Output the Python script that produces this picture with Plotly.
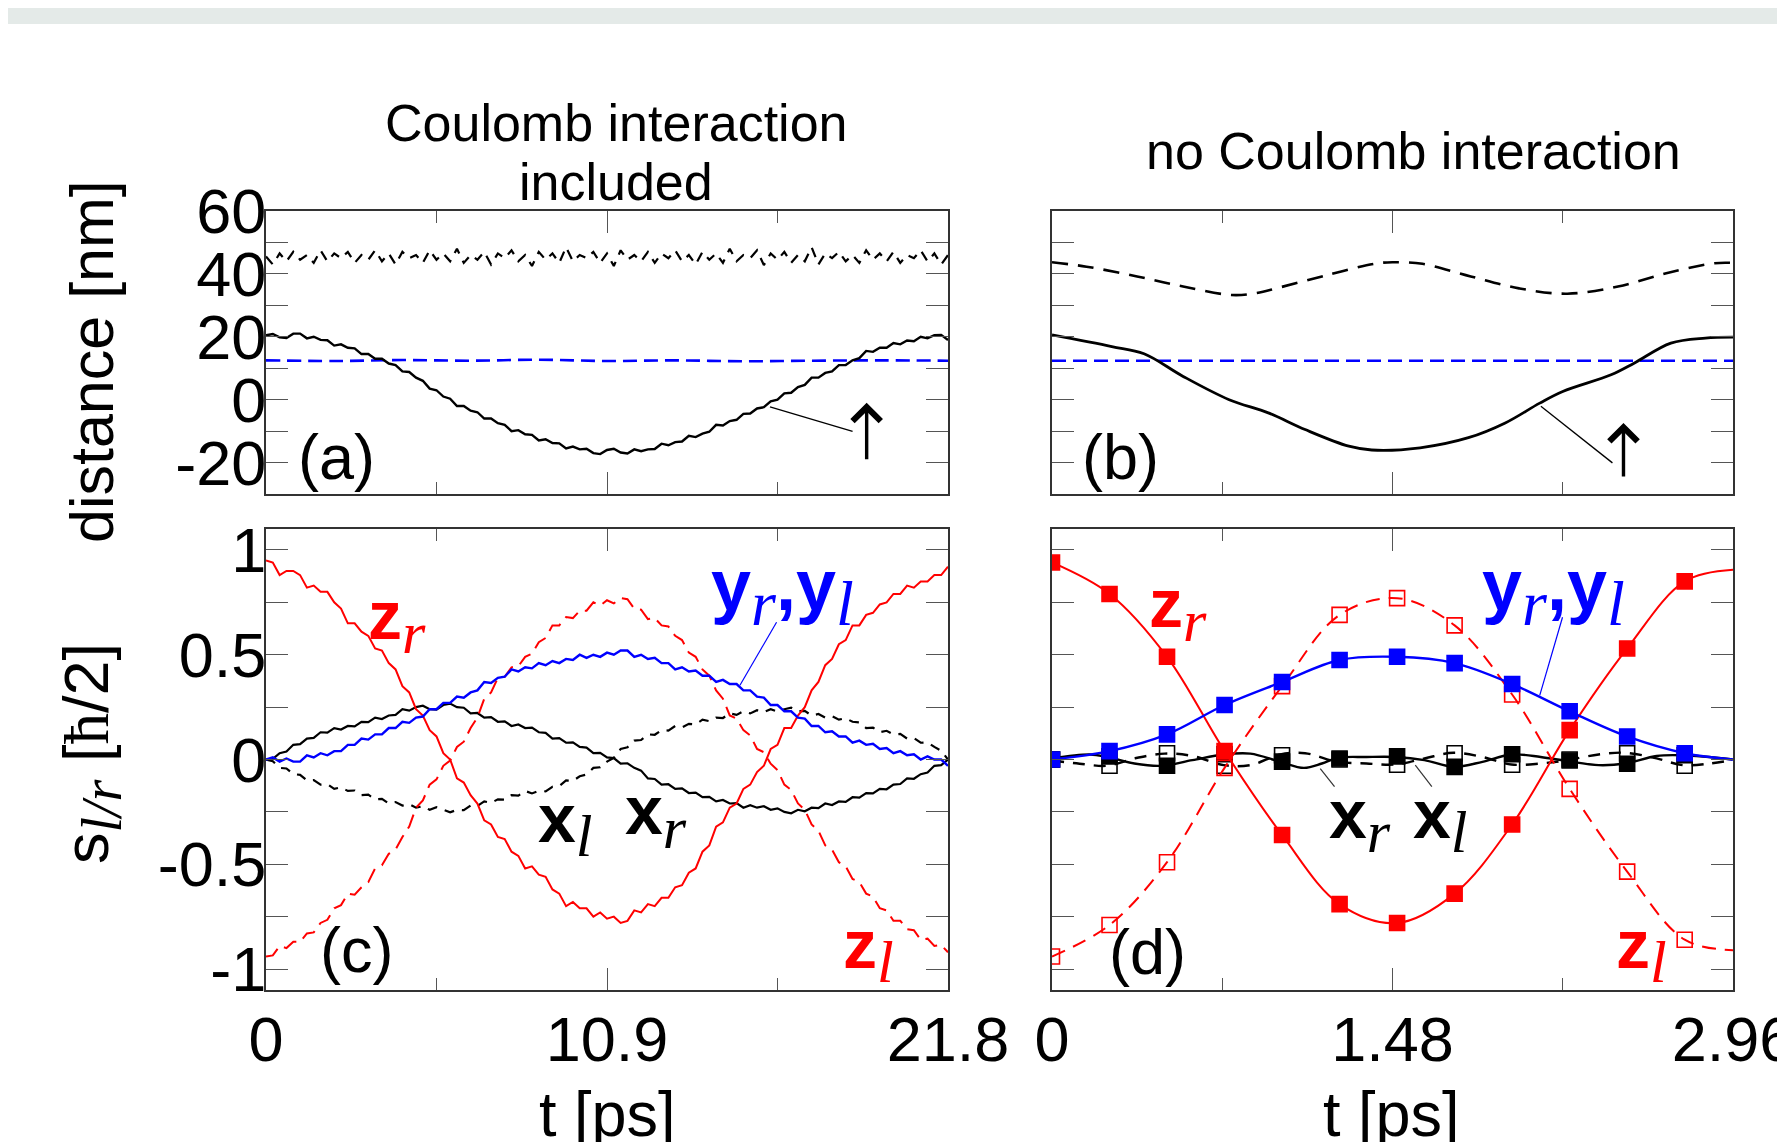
import numpy as np
import plotly.graph_objects as go

W, H = 1785, 1142          # browser window
OFF = 8                    # page body margin that precedes the figure
FW, FH = W - OFF, H - OFF  # figure size so that it ends at the window edge
FONT = "Liberation Sans, Arial, Helvetica, sans-serif"
RED, BLUE, BLACK = "#ff0000", "#0000ff", "#000000"

# ---------------- data ----------------
T_C_MAX = 21.8          # ps, Coulomb case
T_N_MAX = 2.96          # ps, no Coulomb case
XT_C = [0, 10.9, 21.8]
XT_C_MINOR = [5.45, 16.35]
XT_N = [0, 1.48, 2.96]
XT_N_MINOR = [0.74, 2.22]
XT_C_TEXT = ["0", "10.9", "21.8"]
XT_N_TEXT = ["0", "1.48", "2.96"]
YT_DIST = [-30, -20, -10, 0, 10, 20, 30, 40, 50, 60]
YT_DIST_TEXT = ["", "-20", "", "0", "", "20", "", "40", "", "60"]
YT_SPIN = [-1, -0.75, -0.5, -0.25, 0, 0.25, 0.5, 0.75, 1]
YT_SPIN_TEXT = ["-1", "", "-0.5", "", "0", "", "0.5", "", "1"]

# (a) distances [nm], Coulomb interaction included
dist_a_solid = [20.5, 20.9, 19.8, 19.6, 21.0, 21.0, 19.5, 20.0, 19.0, 18.9, 17.2, 17.6, 16.5,
                16.3, 14.5, 14.5, 13.0, 13.0, 11.5, 11.0, 9.0, 8.8, 7.0, 6.0, 3.5, 3.0, 1.0,
                0.3, -2.0, -2.0, -3.5, -4.0, -6.0, -6.0, -7.5, -8.0, -10.0, -9.7, -11.0,
                -11.2, -13.0, -12.6, -13.8, -13.9, -15.5, -14.9, -15.8, -15.6, -17.0, -17.3,
                -16.0, -15.6, -16.8, -17.1, -15.8, -16.4, -15.8, -15.7, -14.0, -14.5, -13.5,
                -13.3, -11.5, -11.9, -10.8, -10.2, -8.0, -8.2, -6.8, -6.4, -4.5, -4.4, -2.8,
                -2.4, -0.5, 0.0, 2.0, 2.2, 4.0, 4.7, 7.0, 7.0, 8.5, 9.0, 11.0, 11.0, 12.5,
                13.2, 15.5, 15.2, 16.5, 16.5, 18.0, 17.6, 18.8, 18.6, 20.0, 19.5, 20.5, 20.6,
                19.0]
dist_a_dashed = [45.5, 43.0, 46.5, 44.0, 47.0, 44.5, 46.0, 43.5, 47.5, 44.0, 46.5, 45.0, 47.0,
                 43.5, 46.0, 44.5, 47.5, 44.0, 46.5, 43.0, 47.0, 45.0, 46.0, 43.5, 47.5, 44.5,
                 46.5, 44.0, 48.0, 43.5, 46.0, 44.5, 47.0, 43.0, 46.5, 45.0, 47.5, 44.0, 46.0,
                 42.5, 47.0, 44.5, 46.5, 43.5, 48.5, 44.0, 46.0, 45.0, 47.0, 43.5, 46.5, 42.5,
                 47.5, 44.5, 46.0, 44.0, 47.0, 43.5, 46.5, 45.0, 47.5, 44.0, 46.0, 43.0, 47.0,
                 44.5, 46.5, 43.5, 48.0, 44.0, 46.0, 45.0, 47.5, 42.8, 46.5, 44.5, 47.0, 43.5,
                 46.0, 44.0, 48.5, 43.0, 46.5, 45.0, 47.0, 44.0, 46.0, 43.5, 47.5, 44.5, 46.5,
                 44.0, 47.0, 43.5, 46.0, 45.0, 47.5, 44.0, 46.5, 43.0, 46.0]
dist_a_blue = [12.5, 12.3, 12.6, 12.4, 12.7, 12.3, 12.5, 12.2, 12.4, 12.5, 12.4]

# (b) distances [nm], no Coulomb interaction
t_b_dashed = [0, 0.15, 0.37, 0.57, 0.78, 0.88, 0.99, 1.20, 1.40, 1.48, 1.61, 1.82, 2.03,
              2.24, 2.46, 2.67, 2.88, 2.96]
dist_b_dashed = [43.7, 42.3, 39.2, 36.0, 33.3, 33.8, 35.7, 39.7, 43.2, 43.7, 43.2, 39.2, 35.4,
                 33.7, 36.0, 40.2, 43.4, 43.5]
t_b_solid = [0, 0.26, 0.40, 0.57, 0.77, 0.94, 1.10, 1.29, 1.39, 1.60, 1.81, 1.97, 2.12,
             2.22, 2.43, 2.53, 2.69, 2.84, 2.96]
dist_b_solid = [20.6, 16.9, 14.6, 7.4, 0.0, -4.2, -9.5, -14.8, -16.0, -15.3, -12.1, -7.4,
                -1.1, 2.6, 7.9, 11.6, 18.0, 19.6, 19.9]
t_b_blue = [0, 2.96]
dist_b_blue = [12.4, 12.4]

# (c) spins [hbar/2], Coulomb interaction included
zr_c = [0.95, 0.94, 0.88, 0.90, 0.90, 0.88, 0.82, 0.83, 0.80, 0.80, 0.75, 0.72, 0.65, 0.65,
        0.61, 0.59, 0.53, 0.52, 0.46, 0.43, 0.35, 0.32, 0.24, 0.21, 0.14, 0.11, 0.03, 0.00,
        -0.09, -0.11, -0.17, -0.21, -0.29, -0.31, -0.37, -0.38, -0.44, -0.46, -0.52, -0.51,
        -0.55, -0.56, -0.62, -0.64, -0.70, -0.68, -0.71, -0.71, -0.75, -0.73, -0.76, -0.75,
        -0.78, -0.77, -0.72, -0.73, -0.69, -0.70, -0.66, -0.66, -0.61, -0.60, -0.54, -0.52,
        -0.44, -0.41, -0.32, -0.30, -0.23, -0.21, -0.14, -0.12, -0.06, -0.03, 0.05, 0.07,
        0.15, 0.15, 0.21, 0.25, 0.33, 0.37, 0.45, 0.48, 0.55, 0.57, 0.64, 0.64, 0.69, 0.70,
        0.74, 0.75, 0.79, 0.79, 0.83, 0.82, 0.85, 0.85, 0.88, 0.88, 0.92]
zl_c = [-0.94, -0.935, -0.89, -0.90, -0.87, -0.87, -0.83, -0.825, -0.78, -0.765, -0.71,
        -0.695, -0.64, -0.645, -0.61, -0.585, -0.52, -0.505, -0.45, -0.43, -0.37, -0.32,
        -0.23, -0.195, -0.12, -0.095, -0.03, -0.005, 0.06, 0.085, 0.15, 0.20, 0.29, 0.32,
        0.39, 0.395, 0.44, 0.445, 0.49, 0.505, 0.56, 0.58, 0.64, 0.64, 0.68, 0.675, 0.71,
        0.71, 0.75, 0.735, 0.76, 0.745, 0.77, 0.765, 0.72, 0.715, 0.67, 0.675, 0.64, 0.635,
        0.59, 0.57, 0.51, 0.49, 0.43, 0.40, 0.33, 0.29, 0.21, 0.195, 0.14, 0.115, 0.05,
        0.035, -0.02, -0.05, -0.12, -0.145, -0.21, -0.24, -0.31, -0.34, -0.41, -0.43, -0.49,
        -0.51, -0.57, -0.585, -0.64, -0.655, -0.71, -0.72, -0.77, -0.77, -0.81, -0.815,
        -0.86, -0.855, -0.89, -0.885, -0.92]
y_c = [0.00, 0.01, -0.01, 0.005, -0.01, -0.01, 0.02, 0.01, 0.03, 0.02, 0.04, 0.04, 0.07,
       0.07, 0.10, 0.095, 0.12, 0.12, 0.15, 0.15, 0.18, 0.175, 0.20, 0.205, 0.24, 0.24, 0.27,
       0.27, 0.30, 0.295, 0.32, 0.33, 0.37, 0.365, 0.39, 0.395, 0.43, 0.42, 0.44, 0.435,
       0.46, 0.45, 0.47, 0.46, 0.48, 0.475, 0.50, 0.485, 0.50, 0.49, 0.51, 0.50, 0.52, 0.52,
       0.49, 0.50, 0.48, 0.485, 0.46, 0.46, 0.43, 0.44, 0.42, 0.425, 0.40, 0.40, 0.37, 0.38,
       0.36, 0.36, 0.33, 0.33, 0.30, 0.295, 0.26, 0.26, 0.23, 0.23, 0.20, 0.195, 0.16, 0.16,
       0.13, 0.135, 0.11, 0.11, 0.08, 0.09, 0.07, 0.075, 0.05, 0.055, 0.03, 0.04, 0.02,
       0.025, 0.00, 0.015, 0.00, 0.00, -0.03]
xr_c = [0.00, 0.003, 0.03, 0.038, 0.07, 0.073, 0.10, 0.103, 0.13, 0.128, 0.15, 0.143, 0.16,
        0.158, 0.18, 0.178, 0.20, 0.193, 0.21, 0.213, 0.24, 0.233, 0.25, 0.257, 0.24, 0.238,
        0.26, 0.267, 0.25, 0.247, 0.22, 0.222, 0.20, 0.202, 0.18, 0.182, 0.16, 0.167, 0.15,
        0.152, 0.13, 0.127, 0.10, 0.102, 0.08, 0.082, 0.06, 0.057, 0.03, 0.032, 0.01, 0.007,
        -0.02, -0.018, -0.04, -0.053, -0.09, -0.093, -0.12, -0.118, -0.14, -0.138, -0.16,
        -0.158, -0.18, -0.178, -0.20, -0.193, -0.21, -0.208, -0.23, -0.218, -0.23, -0.223,
        -0.24, -0.233, -0.25, -0.257, -0.24, -0.247, -0.23, -0.232, -0.21, -0.217, -0.20,
        -0.202, -0.18, -0.182, -0.16, -0.162, -0.14, -0.142, -0.12, -0.117, -0.09, -0.092,
        -0.07, -0.062, -0.03, -0.027, 0.00]
xl_c = [0.00, -0.008, -0.04, -0.043, -0.07, -0.073, -0.10, -0.098, -0.12, -0.118, -0.14,
        -0.133, -0.15, -0.148, -0.17, -0.168, -0.19, -0.188, -0.21, -0.203, -0.22, -0.213,
        -0.23, -0.223, -0.24, -0.228, -0.24, -0.252, -0.24, -0.242, -0.22, -0.222, -0.20,
        -0.207, -0.19, -0.192, -0.17, -0.172, -0.15, -0.162, -0.15, -0.152, -0.13, -0.127,
        -0.10, -0.102, -0.08, -0.072, -0.04, -0.037, -0.01, 0.008, 0.05, 0.058, 0.09, 0.093,
        0.12, 0.118, 0.14, 0.138, 0.16, 0.153, 0.17, 0.168, 0.19, 0.183, 0.20, 0.198, 0.22,
        0.213, 0.23, 0.22, 0.235, 0.226, 0.24, 0.228, 0.24, 0.247, 0.23, 0.232, 0.21, 0.217,
        0.20, 0.207, 0.19, 0.197, 0.18, 0.177, 0.15, 0.152, 0.13, 0.137, 0.12, 0.122, 0.10,
        0.102, 0.08, 0.082, 0.06, 0.042, 0.00]

# (d) spins [hbar/2], no Coulomb interaction
t_d_mark = [0.0, 0.25, 0.5, 0.75, 1.0, 1.25, 1.5, 1.75, 2.0, 2.25, 2.5, 2.75]
t_d_line = [0.0, 0.25, 0.5, 0.75, 1.0, 1.25, 1.5, 1.75, 2.0, 2.25, 2.5, 2.75, 2.96]
zr_d = [0.94, 0.79, 0.49, 0.04, -0.36, -0.69, -0.78, -0.64, -0.31, 0.14, 0.53, 0.85, 0.905]
zl_d = [-0.94, -0.79, -0.49, -0.04, 0.35, 0.69, 0.77, 0.64, 0.31, -0.14, -0.535, -0.86, -0.91]
y_d = [0.0, 0.04, 0.12, 0.26, 0.37, 0.475, 0.49, 0.46, 0.36, 0.23, 0.11, 0.03, 0.0]
xr_d_mark = [0.0, 0.015, -0.03, 0.025, -0.01, 0.005, 0.015, -0.035, 0.025, -0.005, -0.02, 0.02]
xl_d_mark = [0.0, -0.03, 0.03, -0.03, 0.02, 0.0, -0.025, 0.03, -0.025, 0.0, 0.03, -0.03]
t_xr_d = [0, 0.164, 0.241, 0.358, 0.474, 0.610, 0.746, 0.862, 0.992, 1.095, 1.173, 1.240,
          1.367, 1.493, 1.619, 1.745, 1.871, 1.997, 2.124, 2.240, 2.376, 2.492, 2.628, 2.744,
          2.958]
xr_d = [0.005, 0.024, 0.012, -0.019, -0.030, -0.003, 0.024, 0.028, -0.011, -0.040, -0.019,
        0.008, 0.012, 0.012, -0.003, -0.035, -0.011, 0.024, 0.012, -0.008, -0.027, -0.019,
        0.017, 0.020, 0.0]
t_xl_d = [0, 0.12, 0.241, 0.358, 0.49, 0.61, 0.746, 0.862, 0.992, 1.10, 1.24, 1.367, 1.493,
          1.619, 1.745, 1.871, 1.997, 2.124, 2.240, 2.376, 2.492, 2.628, 2.744, 2.86, 2.958]
xl_d = [-0.005, -0.02, -0.030, 0.005, 0.028, 0.017, -0.027, -0.027, 0.024, 0.03, -0.011,
        -0.019, -0.024, 0.005, 0.032, 0.012, -0.024, -0.019, -0.003, 0.024, 0.032, 0.005,
        -0.027, -0.019, -0.003]


def tgrid(vals, tmax=T_C_MAX):
    return np.linspace(0, tmax, len(vals))


def px(x):
    """page pixel column -> paper fraction"""
    return (x - OFF) / FW


def py(y):
    """page pixel row -> paper fraction"""
    return 1 - (y - OFF) / FH


# ---------------- figure ----------------
fig = go.Figure()


def line(x, y, ax, color, width=2.2, dash="solid", shape="linear"):
    fig.add_trace(go.Scatter(x=x, y=y, xaxis="x" + ax, yaxis="y" + ax, mode="lines",
                             line=dict(color=color, width=width, dash=dash, shape=shape),
                             hoverinfo="skip"))


def marks(x, y, ax, color, symbol, size=15):
    fig.add_trace(go.Scatter(x=x, y=y, xaxis="x" + ax, yaxis="y" + ax, mode="markers",
                             marker=dict(color=color, symbol=symbol, size=size,
                                         line=dict(color=color, width=1.6)),
                             hoverinfo="skip"))


# (a)
line(tgrid(dist_a_dashed), dist_a_dashed, "", BLACK, 2.2, "10px,8px")
line(tgrid(dist_a_blue), dist_a_blue, "", BLUE, 2.6, "14px,7px", "spline")
line(tgrid(dist_a_solid), dist_a_solid, "", BLACK, 2.4)
# (b)
line(t_b_dashed, dist_b_dashed, "2", BLACK, 2.6, "16px,10px", "spline")
line(t_b_blue, dist_b_blue, "2", BLUE, 2.6, "14px,7px")
line(t_b_solid, dist_b_solid, "2", BLACK, 2.8, "solid", "spline")
# (c)
line(tgrid(xl_c), xl_c, "3", BLACK, 2.2, "10px,8px")
line(tgrid(xr_c), xr_c, "3", BLACK, 2.2)
line(tgrid(zl_c), zl_c, "3", RED, 2.0, "15px,8px")
line(tgrid(zr_c), zr_c, "3", RED, 2.0)
line(tgrid(y_c), y_c, "3", BLUE, 2.4)
# (d)
line(t_xl_d, xl_d, "4", BLACK, 2.4, "12px,9px", "spline")
line(t_xr_d, xr_d, "4", BLACK, 2.4, "solid", "spline")
marks(t_d_mark, xr_d_mark, "4", BLACK, "square")
marks(t_d_mark, xl_d_mark, "4", BLACK, "square-open")
line(t_d_line, zl_d, "4", RED, 2.0, "14px,9px", "spline")
line(t_d_line, zr_d, "4", RED, 2.0, "solid", "spline")
marks(t_d_mark, zl_d[:-1], "4", RED, "square-open")
marks(t_d_mark, zr_d[:-1], "4", RED, "square")
line(t_d_line, y_d, "4", BLUE, 2.4, "solid", "spline")
marks(t_d_mark, y_d[:-1], "4", BLUE, "square")

# ---------------- axes ----------------
XA = [px(266), px(948)]
XB = [px(1052), px(1733)]
YTOP = [py(494), py(211)]
YBOT = [py(990), py(529)]
TICKCOL = "#555555"


def xaxis(dom, anchor, rng, vals, texts, minor_vals, labels):
    return dict(domain=dom, anchor=anchor, range=rng, showgrid=False, zeroline=False,
                automargin=False, ticklabeloverflow="allow",
                showline=True, linecolor="#333333", linewidth=2, mirror="allticks",
                ticks="inside", ticklen=22, tickwidth=1.3, tickcolor=TICKCOL,
                tickvals=vals, ticktext=texts, showticklabels=labels,
                ticklabelstandoff=-7,
                minor=dict(tickvals=minor_vals, ticks="inside", ticklen=12, tickwidth=1.3,
                           tickcolor=TICKCOL),
                tickfont=dict(family=FONT, size=63, color="black"), fixedrange=True)


def yaxis(dom, anchor, rng, vals, texts, labels):
    return dict(domain=dom, anchor=anchor, range=rng, showgrid=False, zeroline=False,
                automargin=False, ticklabeloverflow="allow",
                showline=True, linecolor="#333333", linewidth=2, mirror="allticks",
                ticks="inside", ticklen=22, tickwidth=1.3, tickcolor=TICKCOL,
                tickvals=vals, ticktext=texts, showticklabels=labels,
                ticklabelstandoff=-15,
                tickfont=dict(family=FONT, size=63, color="black"), fixedrange=True)


fig.update_layout(
    width=FW, height=FH, margin=dict(l=0, r=0, t=0, b=0, autoexpand=False),
    paper_bgcolor="white", plot_bgcolor="white", showlegend=False,
    xaxis=xaxis(XA, "y", [0, T_C_MAX], XT_C, XT_C_TEXT, XT_C_MINOR, False),
    yaxis=yaxis(YTOP, "x", [-30, 60], YT_DIST, YT_DIST_TEXT, True),
    xaxis2=xaxis(XB, "y2", [0, T_N_MAX], XT_N, XT_N_TEXT, XT_N_MINOR, False),
    yaxis2=yaxis(YTOP, "x2", [-30, 60], YT_DIST, YT_DIST_TEXT, False),
    xaxis3=xaxis(XA, "y3", [0, T_C_MAX], XT_C, XT_C_TEXT, XT_C_MINOR, True),
    yaxis3=yaxis(YBOT, "x3", [-1.1, 1.1], YT_SPIN, YT_SPIN_TEXT, True),
    xaxis4=xaxis(XB, "y4", [0, T_N_MAX], XT_N, XT_N_TEXT, XT_N_MINOR, True),
    yaxis4=yaxis(YBOT, "x4", [-1.1, 1.1], YT_SPIN, YT_SPIN_TEXT, False),
)

# ---------------- texts ----------------
SUB = "font-family:Liberation Serif,Times New Roman,serif;font-style:italic;font-weight:normal;font-size:60px"


def lab(main, sub):
    return f"<b>{main}</b><sub><span style='{SUB}'>{sub}</span></sub>"


YLAB = ("<b>y</b><sub><span style='" + SUB + ";font-size:64px'>r</span></sub>"
        "<b>,y</b><sub><span style='" + SUB + ";font-size:64px'>l</span></sub>")

ann = []


def txt(x, y, text, ref="", size=63, color="black", **kw):
    d = dict(x=x, y=y, text=text, showarrow=False, font=dict(family=FONT, size=size, color=color),
             xanchor="center", yanchor="middle")
    if ref == "paper":
        d.update(xref="paper", yref="paper")
    else:
        d.update(xref="x" + ref, yref="y" + ref)
    d.update(kw)
    ann.append(d)


# titles
txt(px(616), py(123), "Coulomb interaction", "paper", 52)
txt(px(616), py(182), "included", "paper", 52)
txt(px(1413), py(151), "no Coulomb interaction", "paper", 52)
# axis titles
txt(px(92), py(362), "distance [nm]", "paper", 61, textangle=-90)
txt(px(92), py(754),
    "s<sub><span style='" + SUB + ";font-size:56px'>l/r</span></sub> "
    "[<span style='font-family:Liberation Serif,serif'>ħ</span>/2]",
    "paper", 63, textangle=-90)
txt(px(607), py(1114), "t [ps]", "paper", 63)
txt(px(1391), py(1114), "t [ps]", "paper", 63)

# panel letters
txt(2.24, -18.3, "(a)", "")
txt(0.298, -18.3, "(b)", "2")
txt(2.88, -0.91, "(c)", "3")
txt(0.413, -0.92, "(d)", "4")

# curve labels (c)
txt(4.2, 0.66, lab("z", "r"), "3", 68, RED)
txt(16.5, 0.80, YLAB, "3", 72, BLUE)
txt(9.56, -0.31, lab("x", "l"), "3", 68, BLACK)
txt(12.47, -0.27, lab("x", "r"), "3", 68, BLACK)
txt(19.27, -0.91, lab("z", "l"), "3", 68, RED)
# curve labels (d)
txt(0.548, 0.716, lab("z", "r"), "4", 68, RED)
txt(2.18, 0.80, YLAB, "4", 72, BLUE)
txt(1.34, -0.29, lab("x", "r"), "4", 68, BLACK)
txt(1.69, -0.29, lab("x", "l"), "4", 68, BLACK)
txt(2.563, -0.91, lab("z", "l"), "4", 68, RED)

# arrows marking the distance curve
for ref, xt, yt, ay in (("", 19.20, -0.95, 58), ("2", 2.484, -7.4, 55)):
    ann.append(dict(x=xt, y=yt, xref="x" + ref, yref="y" + ref, text="", showarrow=True,
                    ax=0, ay=ay, arrowhead=4, arrowsize=1.6, arrowwidth=3.4,
                    arrowcolor="black", standoff=0, startstandoff=0))

fig.update_layout(annotations=ann)

# pointer lines and background band
shapes = [
    dict(type="rect", xref="paper", yref="paper", x0=0, x1=1, y0=py(24), y1=1,
         fillcolor="#e4eae8", line=dict(width=0), layer="below"),
    dict(type="line", xref="x", yref="y", x0=16.11, y0=-2.3, x1=18.75, y1=-10.1,
         line=dict(color="black", width=1.3)),
    dict(type="line", xref="x2", yref="y2", x0=2.125, y0=-2.1, x1=2.436, y1=-20.1,
         line=dict(color="black", width=1.3)),
    dict(type="line", xref="x3", yref="y3", x0=16.32, y0=0.655, x1=15.15, y1=0.354,
         line=dict(color=BLUE, width=1.2)),
    dict(type="line", xref="x4", yref="y4", x0=2.219, y0=0.679, x1=2.120, y1=0.306,
         line=dict(color=BLUE, width=1.2)),
    dict(type="line", xref="x4", yref="y4", x0=1.228, y0=-0.13, x1=1.166, y1=-0.043,
         line=dict(color="#333333", width=1.2)),
    dict(type="line", xref="x4", yref="y4", x0=1.651, y0=-0.13, x1=1.579, y1=-0.027,
         line=dict(color="#333333", width=1.2)),
]
fig.update_layout(shapes=shapes)

fig.write_html("out.html")
